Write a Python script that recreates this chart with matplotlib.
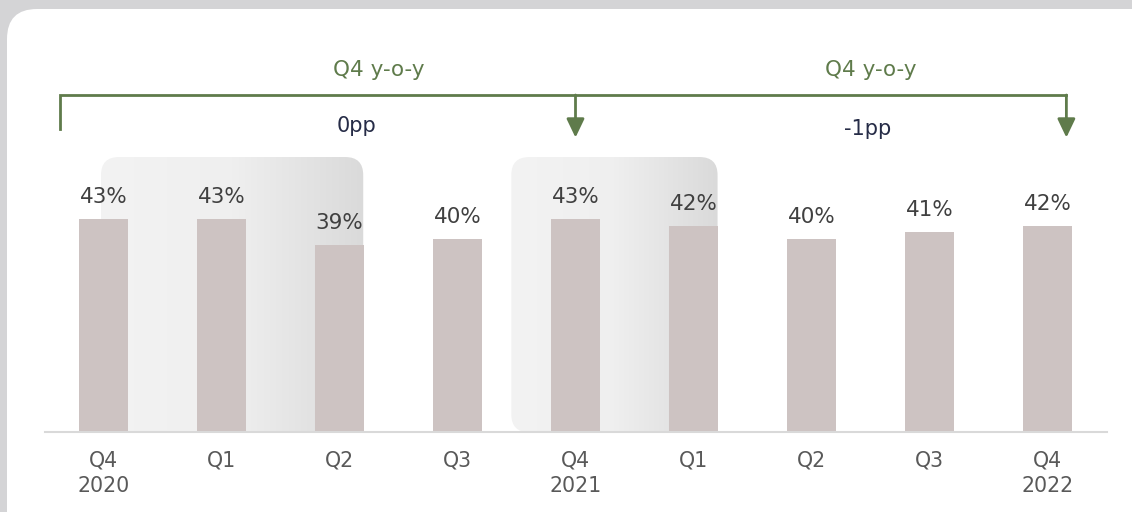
import matplotlib
matplotlib.use("Agg")
import matplotlib.pyplot as plt
import numpy as np
from matplotlib.patches import FancyBboxPatch
from matplotlib.colors import LinearSegmentedColormap

# ---- data ----
quarters = ["Q4\n2020", "Q1", "Q2", "Q3", "Q4\n2021", "Q1", "Q2", "Q3", "Q4\n2022"]
values = [43, 43, 39, 40, 43, 42, 40, 41, 42]
labels = ["43%", "43%", "39%", "40%", "43%", "42%", "40%", "41%", "42%"]
yoy_titles = ["Q4 y-o-y", "Q4 y-o-y"]
yoy_changes = ["0pp", "-1pp"]

W, H = 1132, 512
BG = "#d4d4d6"
BAR = "#cdc3c2"
GREEN = "#5f7b4b"
NAVY = "#262c47"
LABEL = "#404040"
TICK = "#595959"

fig = plt.figure(figsize=(W / 100, H / 100), dpi=100, facecolor=BG)

# background overlay axes in pixel coordinates
bg = fig.add_axes([0, 0, 1, 1], zorder=0)
bg.set_xlim(0, W)
bg.set_ylim(0, H)
bg.axis("off")
panel = FancyBboxPatch((7, -60), 1180, H - 9 + 60, boxstyle="round,pad=0,rounding_size=30",
                       facecolor="white", edgecolor="none")
bg.add_patch(panel)

# main axes
y0 = 10.2
ax = fig.add_axes([44.5 / W, (H - 432.3) / H, 1062 / W, (432.3 - 60) / H], zorder=1)
ax.set_facecolor("none")
x = np.arange(len(values))
ax.set_xlim(-0.5, len(values) - 0.5)
ax.set_ylim(y0, y0 + (432.3 - 60) / 6.5)
bars = ax.bar(x, [v - y0 for v in values], bottom=y0, width=0.415, color=BAR, zorder=2)
for xi, v, lab in zip(x, values, labels):
    ax.annotate(lab, (xi, v), xytext=(0, 11.5), textcoords="offset points",
                ha="center", va="baseline", fontsize=15.5, color=LABEL, zorder=3)

ax.set_xticks(x)
ax.set_xticklabels(quarters, fontsize=14.8, color=TICK, linespacing=1.38)
ax.tick_params(axis="x", length=0, pad=13)
ax.tick_params(axis="y", left=False, labelleft=False)
for s in ["top", "left", "right"]:
    ax.spines[s].set_visible(False)
ax.spines["bottom"].set_color("#d9d9d9")
ax.spines["bottom"].set_linewidth(1.5)

# shaded rounded highlight boxes (drawn in pixel space on bg axes)
fig.canvas.draw()
inv = bg.transData.inverted()
grad_cmap = LinearSegmentedColormap.from_list("g", ["#f3f3f3", "#efefef", "#dadada"])
shade_spans = [(-0.021, 2.201), (3.456, 5.204)]
shade_top = 52.55
for xa, xb in shade_spans:
    (px0, py0) = inv.transform(ax.transData.transform((xa, y0)))
    (px1, py1) = inv.transform(ax.transData.transform((xb, shade_top)))
    patch = FancyBboxPatch((px0, py0), px1 - px0, py1 - py0,
                           boxstyle="round,pad=0,rounding_size=18",
                           facecolor="none", edgecolor="none")
    bg.add_patch(patch)
    grad = np.linspace(0, 1, 256).reshape(1, -1)
    im = bg.imshow(grad, extent=[px0, px1, py0, py1], cmap=grad_cmap, aspect="auto",
                   interpolation="bicubic", zorder=1)
    im.set_clip_path(patch)
bg.set_xlim(0, W)
bg.set_ylim(0, H)

# y-o-y brackets
br_y = 62.09
left_x, left_bottom = -0.369, 56.86
arrow_xs = [4.0, 8.16]
arrow_tip = 55.54
ax.plot([left_x, left_x, arrow_xs[-1]], [left_bottom, br_y, br_y], color=GREEN, lw=2,
        solid_joinstyle="miter", clip_on=False, zorder=4)
for ax_x in arrow_xs:
    ax.annotate("", xy=(ax_x, arrow_tip), xytext=(ax_x, br_y),
                arrowprops=dict(arrowstyle="-|>,head_length=11.3,head_width=5.4",
                                mutation_scale=1, color=GREEN, lw=2, shrinkA=0, shrinkB=0),
                zorder=4, annotation_clip=False)

title_pos = [2.336, 6.501]
change_pos = [(2.142, 56.4), (6.475, 55.94)]
for t, tx in zip(yoy_titles, title_pos):
    ax.text(tx, 65.02, t, ha="center", va="baseline", fontsize=15.5, color=GREEN, zorder=4)
for c, (cx, cy) in zip(yoy_changes, change_pos):
    ax.text(cx, cy, c, ha="center", va="baseline", fontsize=15, color=NAVY, zorder=4)

fig.savefig("out.png", dpi=100, facecolor=BG)
